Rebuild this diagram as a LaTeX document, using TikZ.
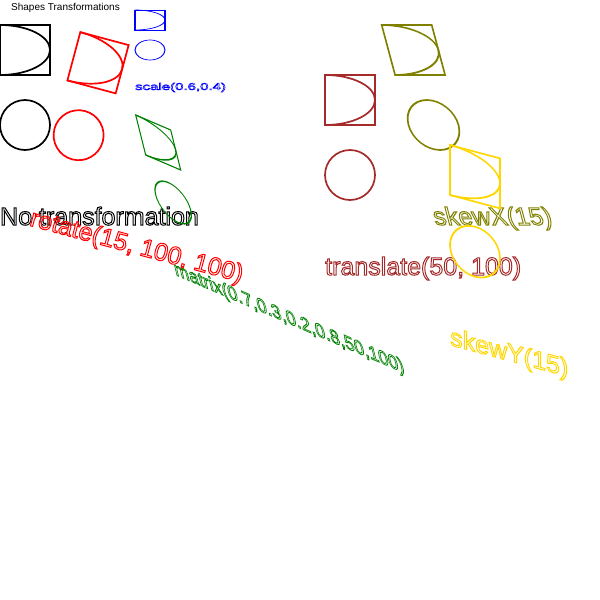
\documentclass[tikz,border=0pt]{standalone}
\usepackage{fontspec}
\setmainfont{Liberation Sans}
\definecolor{svgolive}{RGB}{128,128,0}
\definecolor{svgbrown}{RGB}{165,42,42}
\definecolor{svggold}{RGB}{255,215,0}
\definecolor{svggreen}{RGB}{0,128,0}
\newcommand\hollowtext[2]{\special{pdf:literal direct #1 RG 1 Tr 1 w}#2\special{pdf:literal direct 0 Tr}}
\tikzset{
  shp/.style={line width=1.7pt},
  lbl/.style={anchor=base west, inner sep=0pt, font=\fontsize{25}{30}\selectfont},
}
% #1 colour, #2 rgb for stroke, #3 label, #4 name prefix
\newcommand\shapeset[4]{%
  \draw[shp,#1] (0,25) rectangle (50,75);
  \draw[shp,#1] (0,25) .. controls (27.6,25) and (50,36.2) .. (50,50)
                       .. controls (50,63.8) and (27.6,75) .. (0,75);
  \draw[shp,#1] (25,125) circle[radius=25];
  \node[lbl] (#4label) at (0,225) {\hollowtext{#2}{#3}};
}
\begin{document}
\begin{tikzpicture}[x=1pt,y=-1pt]
\useasboundingbox (0,0) rectangle (600,600);
\node (title) [anchor=base west, inner sep=0pt, font=\fontsize{10}{12}\selectfont] at (11,10) {Shapes Transformations};
\begin{scope}
  \shapeset{black}{0 0 0}{No transformation}{plain}
\end{scope}
\begin{scope}[transform canvas={cm={0.9659,-0.2588,0.2588,0.9659,(86.8pt,-8pt)}}]
  \shapeset{red}{1 0 0}{rotate(15, 100, 100)}{rot}
\end{scope}
\begin{scope}[transform canvas={cm={0.6,0,0,0.4,(135pt,0pt)}}]
  \shapeset{blue}{0 0 1}{scale(0.6,0.4)}{scl}
\end{scope}
\begin{scope}[transform canvas={cm={0.7,-0.3,-0.2,0.8,(130.7pt,-95pt)}}]
  \shapeset{svggreen}{0 0.502 0}{matrix(0.7,0.3,0.2,0.8,50,100)}{mat}
\end{scope}
\begin{scope}[transform canvas={cm={1,0,-0.2679,1,(375pt,0pt)}}]
  \shapeset{svgolive}{0.502 0.502 0}{skewX(15)}{skx}
\end{scope}
\begin{scope}[transform canvas={cm={1,0,0,1,(325pt,-50pt)}}]
  \shapeset{svgbrown}{0.647 0.165 0.165}{translate(50, 100)}{trn}
\end{scope}
\begin{scope}[transform canvas={cm={1,-0.2679,0,1,(450pt,-120pt)}}]
  \shapeset{svggold}{1 0.843 0}{skewY(15)}{sky}
\end{scope}
\end{tikzpicture}
\end{document}
